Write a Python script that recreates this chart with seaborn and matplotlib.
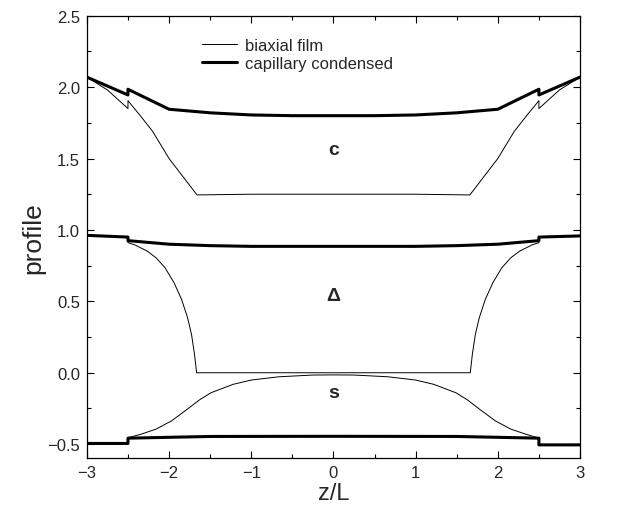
import matplotlib
matplotlib.use("Agg")
import matplotlib.pyplot as plt
from matplotlib.ticker import MultipleLocator
import seaborn as sns

# ---- profile data (z/L positions and values) ----
# order parameter c
c_film_z = [-3.0, -2.75, -2.5, -2.5, -2.35, -2.2, -2.0, -1.66, -1.0, 0.0,
            1.0, 1.66, 2.0, 2.2, 2.35, 2.5, 2.5, 2.75, 3.0]
c_film = [2.07, 1.98, 1.85, 1.905, 1.80, 1.69, 1.50, 1.245, 1.25, 1.25,
          1.25, 1.245, 1.50, 1.69, 1.80, 1.905, 1.85, 1.98, 2.07]
c_cap_z = [-3.0, -2.5, -2.5, -2.0, -1.5, -1.0, -0.5, 0.0, 0.5, 1.0, 1.5,
           2.0, 2.5, 2.5, 3.0]
c_cap = [2.07, 1.945, 1.985, 1.845, 1.82, 1.805, 1.80, 1.80, 1.80, 1.805,
         1.82, 1.845, 1.985, 1.945, 2.07]

# biaxiality Delta
d_film_z = [-3.0, -2.5, -2.5, -2.416, -2.27, -2.16, -2.05, -1.94, -1.848,
            -1.775, -1.727, -1.69, -1.665, 1.665, 1.69, 1.727, 1.775,
            1.848, 1.94, 2.05, 2.16, 2.27, 2.416, 2.5, 2.5, 3.0]
d_film = [0.962, 0.95, 0.911, 0.895, 0.853, 0.806, 0.736, 0.631, 0.514,
          0.386, 0.269, 0.128, 0.0, 0.0, 0.128, 0.269, 0.386,
          0.514, 0.631, 0.736, 0.806, 0.853, 0.895, 0.911, 0.95, 0.958]
d_cap_z = [-3.0, -2.5, -2.5, -2.0, -1.5, -1.0, 0.0, 1.0, 1.5, 2.0, 2.5,
           2.5, 3.0]
d_cap = [0.962, 0.95, 0.925, 0.90, 0.89, 0.885, 0.885, 0.885, 0.89, 0.90,
         0.925, 0.95, 0.958]

# scalar order s
s_film_z = [-3.0, -2.5, -2.5, -2.34, -2.16, -1.97, -1.78, -1.63, -1.49,
            -1.22, -1.0, -0.66, -0.25, 0.0, 0.25, 0.66, 1.0, 1.22, 1.49,
            1.63, 1.78, 1.97, 2.16, 2.34, 2.5, 2.5, 3.0]
s_film = [-0.495, -0.495, -0.455, -0.43, -0.395, -0.337, -0.256, -0.19,
          -0.14, -0.081, -0.051, -0.028, -0.016, -0.015, -0.016, -0.028,
          -0.051, -0.081, -0.14, -0.19, -0.256, -0.337, -0.395, -0.43,
          -0.458, -0.505, -0.505]
s_cap_z = [-3.0, -2.5, -2.5, -2.0, -1.5, 0.0, 1.5, 2.0, 2.5, 2.5, 3.0]
s_cap = [-0.495, -0.495, -0.458, -0.452, -0.446, -0.445, -0.446, -0.452,
         -0.458, -0.505, -0.505]

x_ticks = [-3, -2, -1, 0, 1, 2, 3]
x_tick_labels = ["\u22123", "\u22122", "\u22121", "0", "1", "2", "3"]
y_ticks = [-0.5, 0.0, 0.5, 1.0, 1.5, 2.0, 2.5]
y_tick_labels = ["\u22120.5", "0.0", "0.5", "1.0", "1.5", "2.0", "2.5"]
series_labels = ["biaxial film", "capillary condensed"]
curve_names = ["c", "\u0394", "s"]
name_pos = [(0.0, 1.56), (0.0, 0.54), (0.0, -0.135)]

sns.set_theme(style="ticks")
plt.rcParams["font.family"] = ["Liberation Sans", "DejaVu Sans"]

fig = plt.figure(figsize=(6.25, 5.06), dpi=100)
ax = fig.add_axes([0.139, 0.092, 0.789, 0.875])

film_sets = [(c_film_z, c_film), (d_film_z, d_film), (s_film_z, s_film)]
cap_sets = [(c_cap_z, c_cap), (d_cap_z, d_cap), (s_cap_z, s_cap)]

for i, (z, v) in enumerate(film_sets):
    sns.lineplot(x=z, y=v, sort=False, estimator=None, color="black",
                 linewidth=0.7, ax=ax,
                 label=series_labels[0] if i == 0 else None)
for i, (z, v) in enumerate(cap_sets):
    sns.lineplot(x=z, y=v, sort=False, estimator=None, color="black",
                 linewidth=2.2, ax=ax,
                 label=series_labels[1] if i == 0 else None)

for name, (px, py) in zip(curve_names, name_pos):
    ax.text(px, py, name, ha="center", va="center", fontsize=14,
            fontweight="bold")

ax.set_xlim(-3, 3)
ax.set_ylim(-0.6, 2.5)
ax.set_xticks(x_ticks)
ax.set_yticks(y_ticks)
ax.set_xticklabels(x_tick_labels)
ax.set_yticklabels(y_tick_labels)
ax.xaxis.set_minor_locator(MultipleLocator(0.5))
ax.yaxis.set_minor_locator(MultipleLocator(0.25))
ax.tick_params(which="both", direction="in", top=True, right=True,
               color="black", width=0.8)
ax.tick_params(which="major", length=5, labelsize=12, pad=5)
ax.tick_params(which="minor", length=3)
for sp in ax.spines.values():
    sp.set_linewidth(0.9)
    sp.set_color("black")

ax.set_xlabel("z/L", fontsize=17, labelpad=1)
ax.set_ylabel("profile", fontsize=19, labelpad=1)

ax.legend(loc="upper left", bbox_to_anchor=(0.204, 0.984), frameon=False,
          fontsize=12, handlelength=2.1, handletextpad=0.45,
          labelspacing=0.2)

fig.savefig("out.png", dpi=100, facecolor="white")
